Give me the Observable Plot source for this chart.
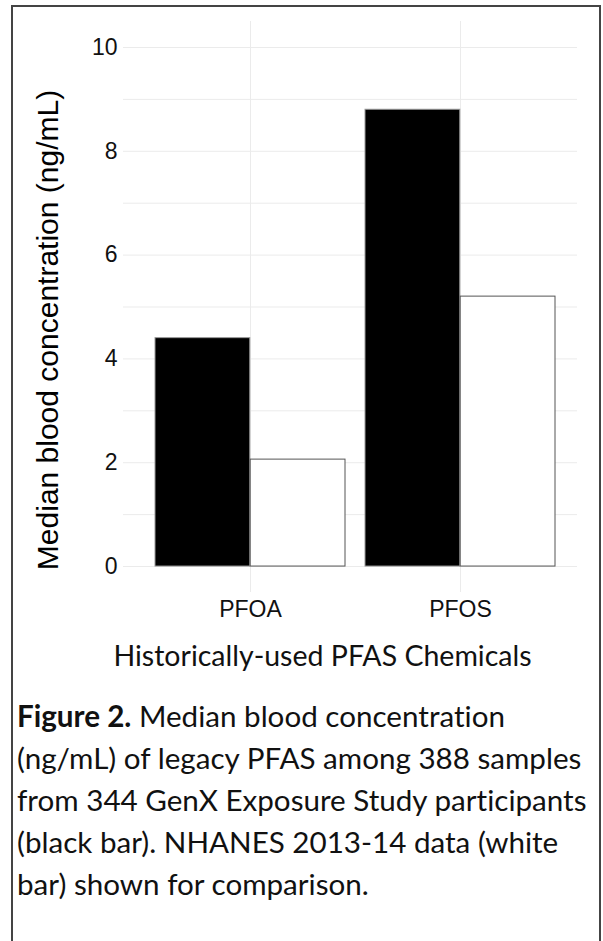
<!DOCTYPE html>
<html><head><meta charset="utf-8">
<script src="https://cdn.jsdelivr.net/npm/d3@7"></script>
<script src="https://cdn.jsdelivr.net/npm/@observablehq/plot@0.6"></script>
<style>
html,body{margin:0;padding:0;background:#fff;}
body{width:603px;height:941px;overflow:hidden;position:relative;}
#frame{position:absolute;left:11px;top:5px;width:590px;height:1000px;border:2px solid #444;border-bottom:none;box-sizing:border-box;}
#chart{position:absolute;left:0;top:0;}
#xtitle{position:absolute;left:0;top:640px;width:645px;text-align:center;font-family:Lato,sans-serif;font-size:28.5px;line-height:30px;color:#111;white-space:nowrap;font-variant-ligatures:none;}
#caption{position:absolute;left:17px;top:695px;font-family:Lato,sans-serif;font-size:29.6px;line-height:42px;color:#111;white-space:nowrap;font-variant-ligatures:none;}
#caption b{font-weight:700;}
</style>
</head><body>
<div id="frame"></div>
<div id="chart"></div>
<div id="xtitle"></div>
<div id="caption"></div>
<script>
const chemicals = ["PFOA", "PFOS"];
const genxValues = [4.4, 8.8];
const nhanesValues = [2.06, 5.2];
const yTicks = [0, 2, 4, 6, 8, 10];
const gridValues = [0, 1, 2, 3, 4, 5, 6, 7, 8, 9, 10];
const yTitle = "Median blood concentration (ng/mL)";
const xTitle = "Historically-used PFAS Chemicals";
const captionBold = "Figure 2.";
const captionLines = [
  " Median blood concentration",
  "(ng/mL) of legacy PFAS among 388 samples",
  "from 344 GenX Exposure Study participants",
  "(black bar). NHANES 2013-14 data (white",
  "bar) shown for comparison."
];

const genx = chemicals.map((c, i) => ({chemical: c, value: genxValues[i]}));
const nhanes = chemicals.map((c, i) => ({chemical: c, value: nhanesValues[i]}));

const half = 95.2;
const chart = Plot.plot({
  width: 603,
  height: 640,
  marginLeft: 123,
  marginRight: 26,
  marginTop: 21,
  marginBottom: 48,
  style: {fontFamily: "'Liberation Sans', Arial, sans-serif", fontSize: "23px", color: "#111", background: "transparent"},
  x: {domain: chemicals, paddingInner: 0.0968, paddingOuter: 0.1252, align: 0.593, tickSize: 0, tickPadding: 8, label: null},
  y: {domain: [-0.5, 10.5], ticks: yTicks, tickSize: 0, tickPadding: 6, label: null, tickFormat: d => String(d)},
  marks: [
    Plot.ruleY(gridValues, {y: d => d, stroke: "#ebebeb", strokeWidth: 1}),
    Plot.ruleX(chemicals, {x: d => d, stroke: "#ebebeb", strokeWidth: 1}),
    Plot.barY(genx, {x: "chemical", y: "value", fill: "#000", stroke: "#999", strokeWidth: 1, insetRight: half}),
    Plot.barY(nhanes, {x: "chemical", y: "value", fill: "#fff", stroke: "#555", strokeWidth: 1, insetLeft: half}),
    Plot.text([yTitle], {frameAnchor: "left", textAnchor: "middle", text: d => d, rotate: -90, fontSize: 30, dx: -75, dy: 23, fill: "#000"})
  ]
});
document.getElementById("chart").appendChild(chart);
document.getElementById("xtitle").textContent = xTitle;
const cap = document.getElementById("caption");
const b = document.createElement("b");
b.textContent = captionBold;
cap.appendChild(b);
captionLines.forEach((line, i) => {
  if (i > 0) cap.appendChild(document.createElement("br"));
  cap.appendChild(document.createTextNode(line));
});
</script>
</body></html>
